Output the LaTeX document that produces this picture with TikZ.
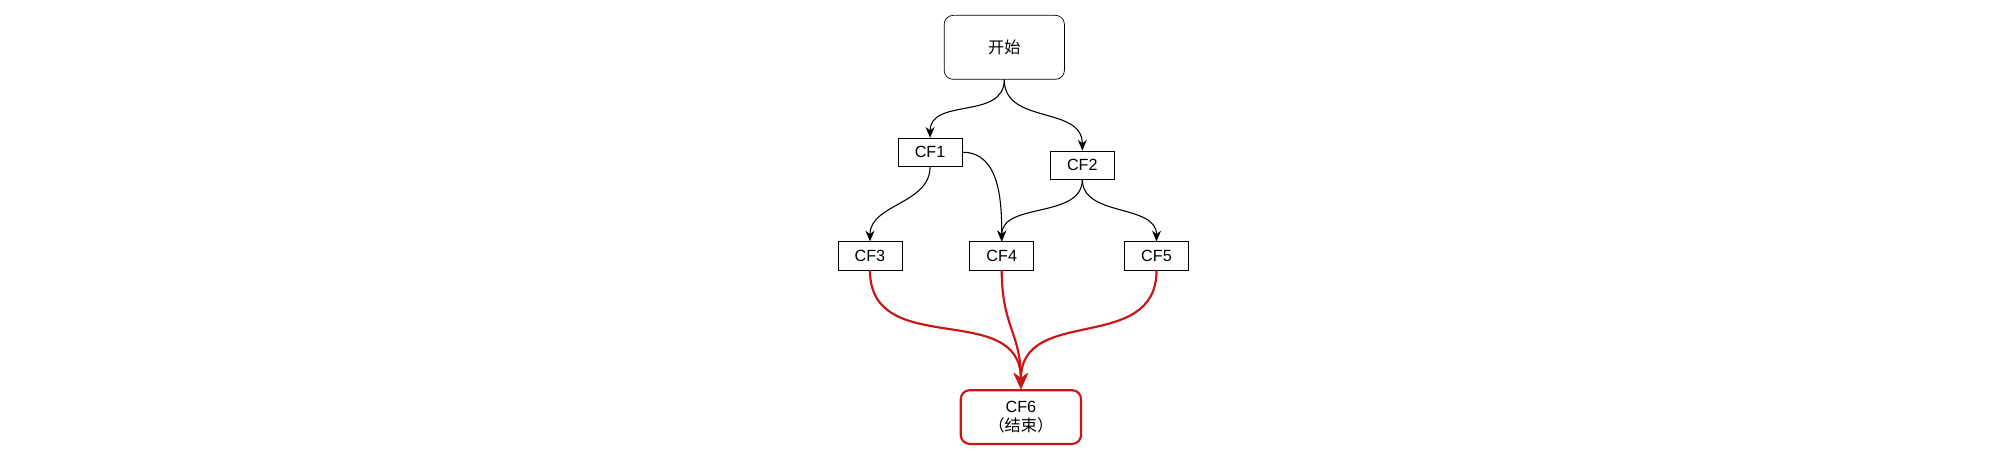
\documentclass[tikz,border=0pt]{standalone}
\usepackage{fontspec}
\setmainfont{Liberation Sans}
\newfontfamily\cjk{Noto Sans CJK SC}
\usetikzlibrary{arrows.meta}
\definecolor{endred}{RGB}{204,20,20}
\tikzset{
  cf/.style={rectangle, draw=black, minimum width=1.25cm, minimum height=0.55cm,
    inner sep=0pt, font=\small},
  startnode/.style={rectangle, rounded corners=5pt, draw=black, minimum width=2.35cm,
    minimum height=1.25cm, font=\small\cjk},
  endnode/.style={rectangle, rounded corners=5pt, draw=endred, line width=1.2pt,
    minimum width=2.35cm, minimum height=1.05cm, align=center, font=\small,
    inner sep=1pt},
  arrow/.style={-{Stealth[length=6pt,width=5pt]}, black, semithick},
  redarrow/.style={-{Stealth[length=9pt,width=8pt]}, endred, line width=1.2pt}
}
\begin{document}
\begin{tikzpicture}[x=0.025cm, y=-0.025cm]
  \useasboundingbox (0,0) rectangle (1568,366.6);
  \node (start) [startnode] at (785,37) {开始};
  \node (cf1) [cf] at (727,119) {CF1};
  \node (cf2) [cf] at (846,129) {CF2};
  \node (cf3) [cf] at (680,200) {CF3};
  \node (cf4) [cf] at (783,200) {CF4};
  \node (cf5) [cf] at (904,200) {CF5};
  \node (cf6) [endnode] at (798,326) {CF6\\{\cjk （结束）}};

  \draw [arrow] (start.south) to[out=-90,in=90,looseness=1.1] (cf1.north);
  \draw [arrow] (start.south) to[out=-90,in=90,looseness=1.1] (cf2.north);
  \draw [arrow] (cf1.south) to[out=-90,in=90] (cf3.north);
  \draw [arrow] (cf1.east) to[out=0,in=90] (cf4.north);
  \draw [arrow] (cf2.south) to[out=-90,in=90] (cf4.north);
  \draw [arrow] (cf2.south) to[out=-90,in=90] (cf5.north);
  % red paths into the end node
  \draw [redarrow] (cf3.south) to[out=-90,in=90,looseness=1.2] (cf6.north);
  \draw [redarrow] (cf4.south) to[out=-90,in=90,looseness=1.2] (cf6.north);
  \draw [redarrow] (cf5.south) to[out=-90,in=90,looseness=1.2] (cf6.north);
\end{tikzpicture}
\end{document}
